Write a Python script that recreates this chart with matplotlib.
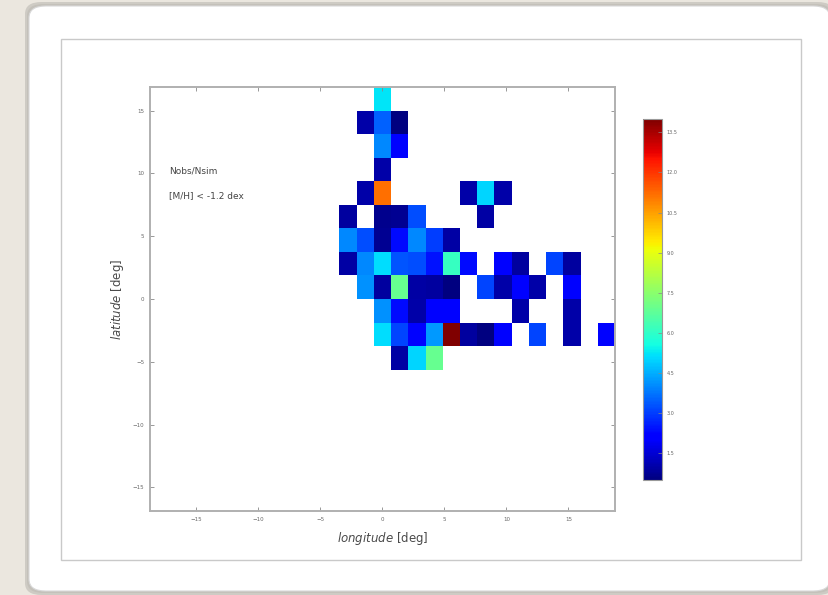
import numpy as np
import matplotlib
matplotlib.use("Agg")
import matplotlib.pyplot as plt
from matplotlib.patches import FancyBboxPatch, Rectangle

# ---- data: Nobs/Nsim per (longitude, latitude) bin ----
# lon bin index 0 is centred on l=0 ; lat bin index 0 spans b=0..1.875
lon_idx = [0,
           -1, 0, 1,
           0, 1,
           0,
           -1, 0, 5, 6, 7,
           -2, 0, 1, 2, 6,
           -2, -1, 0, 1, 2, 3, 4,
           -2, -1, 0, 1, 2, 3, 4, 5, 7, 8, 10, 11,
           -1, 0, 1, 2, 3, 4, 6, 7, 8, 9, 11,
           0, 1, 2, 3, 4, 8, 11,
           0, 1, 2, 3, 4, 5, 6, 7, 9, 11, 13,
           1, 2, 3]
lat_idx = [8,
           7, 7, 7,
           6, 6,
           5,
           4, 4, 4, 4, 4,
           3, 3, 3, 3, 3,
           2, 2, 2, 2, 2, 2, 2,
           1, 1, 1, 1, 1, 1, 1, 1, 1, 1, 1, 1,
           0, 0, 0, 0, 0, 0, 0, 0, 0, 0, 0,
           -1, -1, -1, -1, -1, -1, -1,
           -2, -2, -2, -2, -2, -2, -2, -2, -2, -2, -2,
           -3, -3, -3]
ratio = [5.2,
         1.0, 3.5, 0.55,
         4.0, 2.2,
         1.0,
         1.0, 11.2, 1.0, 5.0, 1.0,
         0.9, 0.7, 0.75, 3.2, 0.95,
         4.0, 3.2, 0.75, 2.3, 4.0, 3.0, 0.95,
         0.95, 4.0, 5.1, 3.3, 3.2, 2.4, 6.1, 2.3, 2.2, 0.9, 3.1, 0.9,
         4.1, 0.9, 6.9, 0.95, 0.9, 0.55, 3.1, 1.0, 2.2, 1.0, 2.2,
         4.1, 2.3, 1.0, 2.2, 2.2, 1.0, 1.0,
         5.1, 3.1, 2.2, 4.2, 14.0, 0.9, 0.55, 2.2, 3.1, 1.0, 2.2,
         0.95, 5.0, 6.9]

xticks = [-15, -10, -5, 0, 5, 10, 15]
yticks = [-15, -10, -5, 0, 5, 10, 15]
cbar_ticks = [1.5, 3.0, 4.5, 6.0, 7.5, 9.0, 10.5, 12.0, 13.5]

# ---- binning ----
dlon = 37.5 / 27
dlat = 1.875
lon_edges = np.linspace(-18.75, 18.75, 28)
lat_edges = np.linspace(-16.875, 16.875, 19)
lon_c = np.array(lon_idx) * dlon
lat_c = (np.array(lat_idx) + 0.5) * dlat
H, _, _ = np.histogram2d(lon_c, lat_c, bins=[lon_edges, lat_edges], weights=ratio)
N, _, _ = np.histogram2d(lon_c, lat_c, bins=[lon_edges, lat_edges])
grid = np.ma.masked_where(N == 0, H).T

W, Hh = 829, 595
fig = plt.figure(figsize=(W / 100, Hh / 100), dpi=100)
fig.patch.set_facecolor('#ebe7df')

def fx(x): return x / W
def fy(y): return 1 - y / Hh

# slide card with shadow
for off, col, a in [(4, '#9a9892', 0.35), (2, '#b5b2ab', 0.4)]:
    fig.patches.append(FancyBboxPatch((fx(29 - off), fy(591 + off)), fx(830 - 29 + 2 * off), (585 + 2 * off) / Hh,
                                      boxstyle="round,pad=0,rounding_size=0.02", transform=fig.transFigure,
                                      facecolor=col, edgecolor='none', alpha=a, zorder=0))
fig.patches.append(FancyBboxPatch((fx(29), fy(591)), fx(830 - 29), 585 / Hh,
                                  boxstyle="round,pad=0,rounding_size=0.02", transform=fig.transFigure,
                                  facecolor='white', edgecolor='#d8d8d8', lw=0.8, zorder=0))
# embedded image frame
fig.patches.append(Rectangle((fx(61), fy(560)), fx(801 - 61), (560 - 39) / Hh, transform=fig.transFigure,
                             facecolor='white', edgecolor='#c9c9c9', lw=1.0, zorder=1))

ax = fig.add_axes([fx(150), fy(511), fx(615 - 150), (511 - 87) / Hh])
ax.set_zorder(2)
mesh = ax.pcolormesh(lon_edges, lat_edges, grid, cmap='jet', vmin=0.5, vmax=14.0)
ax.set_xlim(lon_edges[0], lon_edges[-1])
ax.set_ylim(lat_edges[0], lat_edges[-1])
ax.set_xticks(xticks)
ax.set_yticks(yticks)
ax.tick_params(direction='in', top=True, right=True, length=3, width=0.6, colors='#888888',
               labelsize=4, labelcolor='#666666', pad=4)
for s in ax.spines.values():
    s.set_color('#b0b0b0')
    s.set_linewidth(1.4)

plt.rcParams['mathtext.fontset'] = 'cm'
ax.set_xlabel(r'$longitude$ [deg]', fontsize=8.5, color='#4a4a4a', labelpad=6)
ax.set_ylabel(r'$latitude$ [deg]', fontsize=8.5, color='#4a4a4a', labelpad=5)

ax.text(-17.2, 10.2, 'Nobs/Nsim', fontsize=6.5, color='#444444', va='center', ha='left')
ax.text(-17.2, 8.2, '[M/H] < -1.2 dex', fontsize=6.5, color='#444444', va='center', ha='left')

cax = fig.add_axes([fx(643), fy(480), fx(662 - 643), (480 - 119) / Hh])
cax.set_zorder(2)
cb = fig.colorbar(mesh, cax=cax, ticks=cbar_ticks)
cb.ax.set_yticklabels([f'{t:.1f}' for t in cbar_ticks])
cb.ax.tick_params(labelsize=3.5, labelcolor='#666666', length=3, width=0.5, direction='in', colors='#888888')
cb.outline.set_edgecolor('#999999')
cb.outline.set_linewidth(0.8)

fig.savefig('out.png', dpi=100, facecolor=fig.get_facecolor())
